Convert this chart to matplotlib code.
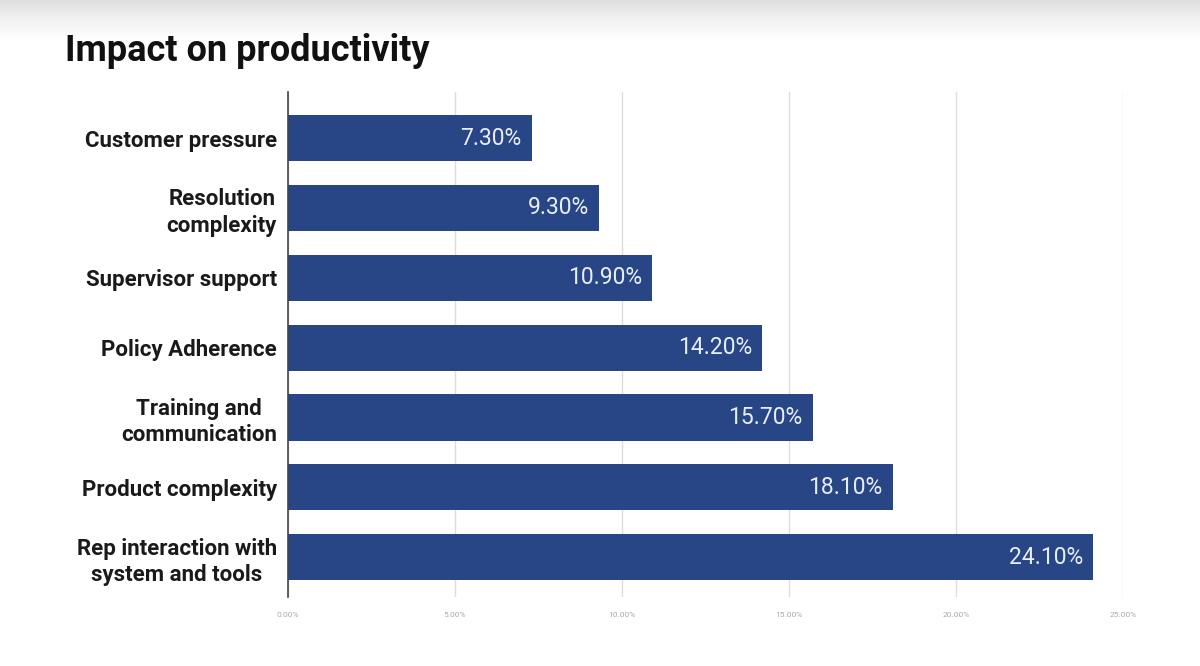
import matplotlib
matplotlib.use("Agg")
import matplotlib.pyplot as plt
import numpy as np

categories = ["Customer pressure", "Resolution\ncomplexity", "Supervisor support",
              "Policy Adherence", "Training and\ncommunication", "Product complexity",
              "Rep interaction with\nsystem and tools"]
values = [7.3, 9.3, 10.9, 14.2, 15.7, 18.1, 24.1]
value_labels = ["7.30%", "9.30%", "10.90%", "14.20%", "15.70%", "18.10%", "24.10%"]
xticks = [0, 5, 10, 15, 20, 25]
xtick_labels = ["0.00%", "5.00%", "10.00%", "15.00%", "20.00%", "25.00%"]

plt.rcParams['font.family'] = ['Roboto', 'DejaVu Sans']

fig = plt.figure(figsize=(12, 6.66), dpi=100)
fig.patch.set_facecolor('white')

# top shadow gradient
grad_ax = fig.add_axes([0, 0.94, 1, 0.06])
grad = np.linspace(1, 0, 100).reshape(-1, 1)
grad_ax.imshow(grad, aspect='auto', cmap='Greys', vmin=0, vmax=4.5, extent=[0, 1, 0, 1], origin='upper')
grad_ax.axis('off')

ax = fig.add_axes([0.24, 0.1036, 0.696, 0.7584])
y = np.arange(len(categories))
ax.barh(y, values, height=0.66, color='#284685')
ax.set_xlim(0, 25)
ax.set_ylim(6.57, -0.66)
ax.set_yticks(y)
ax.set_yticklabels(categories, fontsize=16, fontweight='bold', color='#1a1a1a')
for lab in ax.get_yticklabels():
    lab.set_multialignment('center')
    lab.set_linespacing(1.25)
ax.tick_params(axis='y', length=0, pad=8)
ax.set_xticks(xticks)
ax.set_xticklabels(xtick_labels, fontsize=6, color='#aaaaaa')
ax.tick_params(axis='x', length=0, pad=11)
ax.grid(axis='x', color='#dddddd', linewidth=1)
ax.set_axisbelow(True)
for s in ['top', 'right', 'bottom']:
    ax.spines[s].set_visible(False)
ax.spines['left'].set_color('#444444')
ax.spines['left'].set_linewidth(1.2)

for yi, v, t in zip(y, values, value_labels):
    ax.text(v - 0.3, yi, t, ha='right', va='center', color='#e8eef8', fontsize=16.5)

fig.text(0.054, 0.924, "Impact on productivity", fontsize=26, fontweight='bold',
         color='#111111', ha='left', va='center')

fig.savefig("out.png", dpi=100, facecolor='white')
